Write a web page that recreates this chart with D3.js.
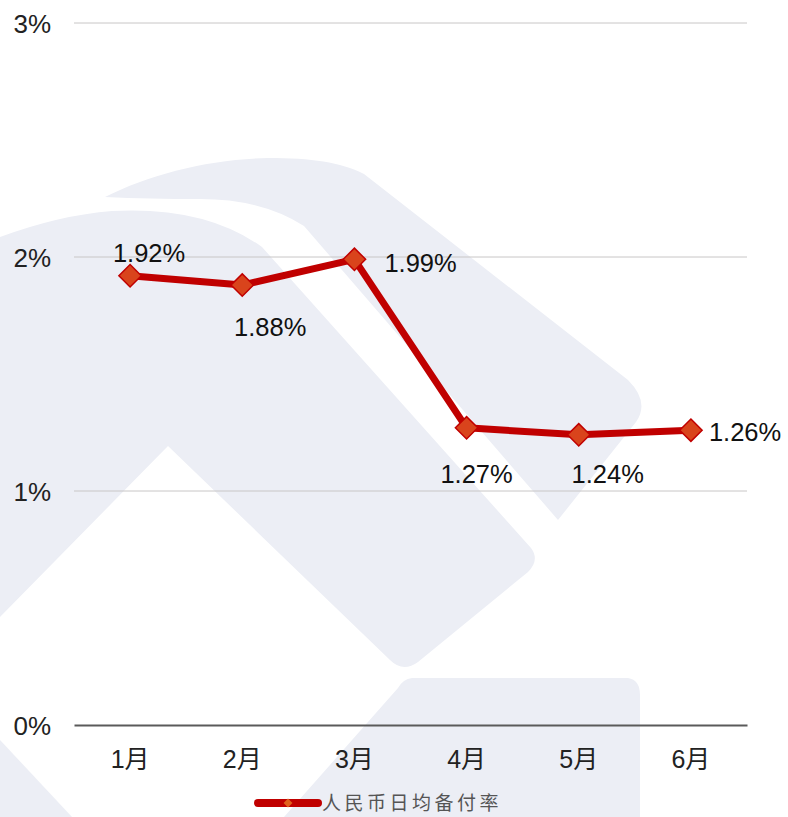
<!DOCTYPE html>
<html><head><meta charset="utf-8">
<script src="https://cdn.jsdelivr.net/npm/d3@7"></script>
<style>html,body{margin:0;padding:0;background:#fff;}svg{display:block;}</style>
</head><body>
<div id="chart"></div>
<script>
const months = ["1月","2月","3月","4月","5月","6月"];
const rates = [1.92, 1.88, 1.99, 1.27, 1.24, 1.26];
const rateLabels = ["1.92%","1.88%","1.99%","1.27%","1.24%","1.26%"];
const yTicks = [0, 1, 2, 3];
const seriesName = "人民币日均备付率";

// label placement offsets (layout only)
const labelDx = [19, 28, 30, 10, 29, 18];
const labelDy = [-23, 42, 3, 46, 39, 2];
const labelAnchor = ["middle","middle","start","middle","middle","start"];

const W = 788, H = 817;
const svg = d3.select("#chart").append("svg").attr("width", W).attr("height", H);

// watermark background
const wm = svg.append("g").attr("fill", "#eceef5");
[
 "M105,197 C150,174 210,159 268,158 C312,158 340,162 364,174 L628,380 Q650,402 636,422 L558,520 L304,226 Q262,199 200,199 Q150,199 105,197 Z",
 "M0,237 Q60,215 112,211 Q205,206 262,247 L531,548 Q540,560 528,572 L418,662 Q403,673 390,660 L168,446 L0,617 Z",
 "M412,678 L628,678 Q640,680 640,695 L640,817 L284,817 L398,688 Q403,679 412,678 Z",
 "M0,740 L72,817 L0,817 Z"
].forEach(d => wm.append("path").attr("d", d));

const x = d3.scaleBand().domain(months).range([74, 747]);
const y = d3.scaleLinear().domain([0, 3]).range([725, 23]);

// gridlines
svg.append("g").selectAll("line").data(yTicks.filter(t => t > 0)).join("line")
  .attr("x1", 74).attr("x2", 747)
  .attr("y1", d => y(d)).attr("y2", d => y(d))
  .attr("stroke", "#c8c6c6").attr("stroke-width", 1);

// y axis labels
const yAxis = d3.axisLeft(y).tickValues(yTicks).tickFormat(d => d + "%").tickSize(0).tickPadding(0);
const yg = svg.append("g").attr("transform", "translate(51,0)").call(yAxis);
yg.select(".domain").remove();
yg.selectAll("text").attr("font-family", "Liberation Sans, Arial, sans-serif")
  .attr("font-size", 26).attr("fill", "#222").attr("dy", "0.36em");

// x axis
const xAxis = d3.axisBottom(x).tickSize(0).tickPadding(0);
const xg = svg.append("g").attr("transform", "translate(0,725)").call(xAxis);
xg.select(".domain").attr("stroke", "#5a5a5a").attr("stroke-width", 2);
xg.selectAll("text").attr("font-family", "Liberation Sans, Noto Sans CJK SC, sans-serif")
  .attr("font-size", 25).attr("fill", "#222").attr("y", 43).attr("dy", 0);

const cx = (d, i) => x(months[i]) + x.bandwidth() / 2;

// line
const line = d3.line().x((d, i) => cx(d, i)).y(d => y(d));
svg.append("path").datum(rates).attr("d", line)
  .attr("fill", "none").attr("stroke", "#c00000").attr("stroke-width", 7)
  .attr("stroke-linejoin", "round");

// markers
const sym = d3.symbol().type(d3.symbolDiamond2).size(320);
svg.append("g").selectAll("path").data(rates).join("path")
  .attr("d", sym)
  .attr("transform", (d, i) => `translate(${cx(d, i)},${y(d)})`)
  .attr("fill", "#d9441c").attr("stroke", "#c00000").attr("stroke-width", 1.5);

// labels
svg.append("g").selectAll("text").data(rates).join("text")
  .attr("x", (d, i) => cx(d, i) + labelDx[i])
  .attr("y", (d, i) => y(d) + labelDy[i])
  .attr("dy", "0.36em")
  .attr("text-anchor", (d, i) => labelAnchor[i])
  .attr("font-family", "Liberation Sans, Arial, sans-serif")
  .attr("font-size", 25.5).attr("fill", "#111")
  .text((d, i) => rateLabels[i]);

// legend
const lg = svg.append("g").attr("transform", "translate(258,803)");
lg.append("line").attr("x1", 0).attr("x2", 60).attr("y1", 0).attr("y2", 0)
  .attr("stroke", "#c00000").attr("stroke-width", 8).attr("stroke-linecap", "round");
lg.append("path").attr("d", d3.symbol().type(d3.symbolDiamond2).size(50)())
  .attr("transform", "translate(30,0)").attr("fill", "#e0601c");
lg.append("text").attr("x", 64).attr("y", 0).attr("dy", "0.36em")
  .attr("font-family", "Noto Sans CJK SC, sans-serif").attr("font-size", 19)
  .attr("letter-spacing", 3.5).attr("fill", "#555").text(seriesName);
</script>
</body></html>
